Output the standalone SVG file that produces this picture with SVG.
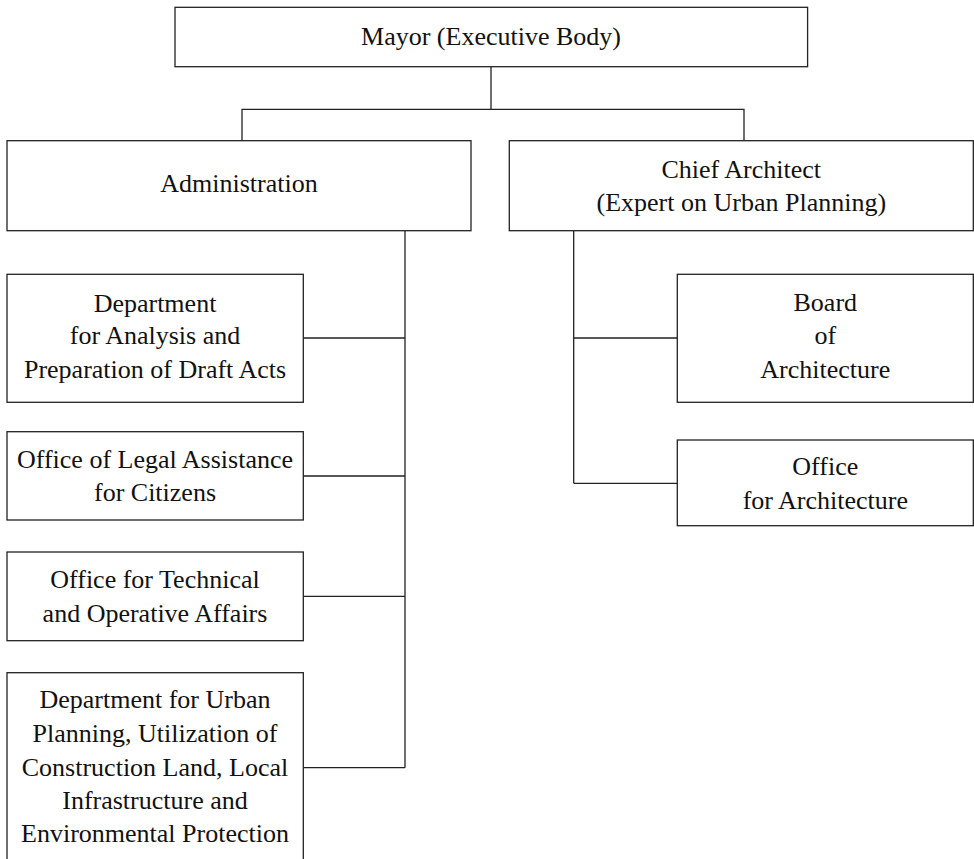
<svg xmlns="http://www.w3.org/2000/svg" width="974" height="859" viewBox="0 0 974 859">
<style>
.box{fill:#fff;stroke:#222;stroke-width:1.3}
.ln{fill:none;stroke:#222;stroke-width:1.3}
text{font-family:"Liberation Serif","Times New Roman",serif;font-size:26px;fill:#111;text-anchor:middle}
</style>
<rect width="974" height="859" fill="#fff"/>
<g id="connectors">
<path class="ln" d="M491,66.7V109.3M242,140.7V109.3H744V140.7"/>
<path class="ln" d="M405,230.7V767.7M303.3,338H405M303.3,476H405M303.3,596.3H405M303.3,767.7H405"/>
<path class="ln" d="M573.7,230.7V483.3M573.7,338H677.3M573.7,483.3H677.3"/>
</g>
<g id="mayor">
<rect class="box" x="175" y="7.3" width="632.6" height="59.4"/>
<text x="491" y="45">Mayor (Executive Body)</text>
</g>
<g id="administration">
<rect class="box" x="7" y="140.7" width="464" height="90"/>
<text x="239" y="191.7">Administration</text>
</g>
<g id="chief-architect">
<rect class="box" x="509.3" y="140.7" width="464" height="90"/>
<text x="741.3" y="177.7">Chief Architect</text>
<text x="741.3" y="211">(Expert on Urban Planning)</text>
</g>
<g id="dept-analysis">
<rect class="box" x="7" y="274.3" width="296.3" height="128"/>
<text x="155" y="311.5">Department</text>
<text x="155" y="344">for Analysis and</text>
<text x="155" y="377.5">Preparation of Draft Acts</text>
</g>
<g id="office-legal">
<rect class="box" x="7" y="431.7" width="296.3" height="88.3"/>
<text x="155" y="468.3">Office of Legal Assistance</text>
<text x="155" y="501.3">for Citizens</text>
</g>
<g id="office-technical">
<rect class="box" x="7" y="552" width="296.3" height="88.7"/>
<text x="155" y="588.3">Office for Technical</text>
<text x="155" y="621.7">and Operative Affairs</text>
</g>
<g id="dept-urban">
<rect class="box" x="7" y="672.7" width="296.3" height="200"/>
<text x="155" y="708.3">Department for Urban</text>
<text x="155" y="741.8">Planning, Utilization of</text>
<text x="155" y="775.5">Construction Land, Local</text>
<text x="155" y="808.5">Infrastructure and</text>
<text x="155" y="842.3">Environmental Protection</text>
</g>
<g id="board-architecture">
<rect class="box" x="677.3" y="274.3" width="296" height="128"/>
<text x="825.3" y="311">Board</text>
<text x="825.3" y="344">of</text>
<text x="825.3" y="378">Architecture</text>
</g>
<g id="office-architecture">
<rect class="box" x="677.3" y="440" width="296" height="85.7"/>
<text x="825.3" y="474.5">Office</text>
<text x="825.3" y="508.5">for Architecture</text>
</g>
</svg>
